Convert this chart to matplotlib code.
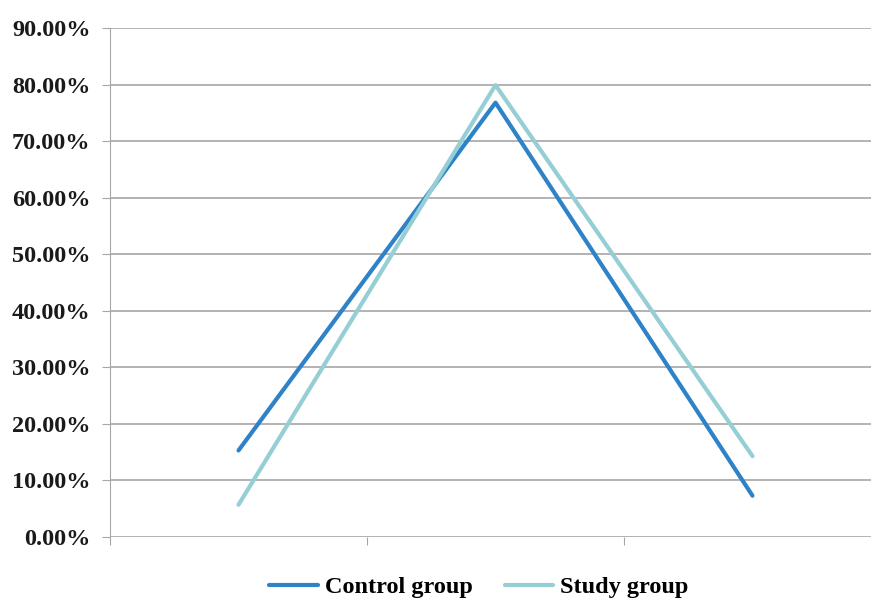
import matplotlib.pyplot as plt
from matplotlib.ticker import PercentFormatter

categories = ['A', 'B', 'C']
control = [15.3, 76.8, 7.3]
study = [5.7, 79.9, 14.3]

fig = plt.figure(figsize=(8.71, 6.01), dpi=100)
ax = fig.add_axes([110/871, 1-537/601, 771/871, 509/601])

x = list(range(len(categories)))
ax.plot(x, control, color='#2E82C8', lw=3, label='Control group', solid_capstyle='round')
ax.plot(x, study, color='#95CED4', lw=3, label='Study group', solid_capstyle='round')

ax.set_xlim(-0.5, 2.5)
ax.set_ylim(0, 90)
ax.set_yticks(range(0, 91, 10))
ax.yaxis.set_major_formatter(PercentFormatter(decimals=2))
ax.set_xticks([-0.5, 0.5, 1.5, 2.5])
ax.set_xticklabels([])
ax.grid(axis='y', color='#A6A6A6', lw=1.2)
ax.set_axisbelow(True)
for s in ['top', 'right', 'bottom']:
    ax.spines[s].set_visible(False)
ax.spines['left'].set_color('#A6A6A6')
ax.tick_params(axis='y', length=6, color='#A6A6A6', pad=8)
ax.tick_params(axis='x', length=6, color='#A6A6A6', direction='out')
for lbl in ax.get_yticklabels():
    lbl.set_fontfamily('Liberation Serif')
    lbl.set_fontweight('bold')
    lbl.set_fontsize(17.5)
    lbl.set_color('#1A1A1A')

fig.legend(loc='center', bbox_to_anchor=(479/871, 1-587/601), ncol=2, frameon=False,
           handlelength=2.0, columnspacing=1.3, handletextpad=0.3,
           borderpad=0.1,
           prop={'family': 'Liberation Serif', 'weight': 'bold', 'size': 17.5})

fig.savefig('out.png', dpi=100)
